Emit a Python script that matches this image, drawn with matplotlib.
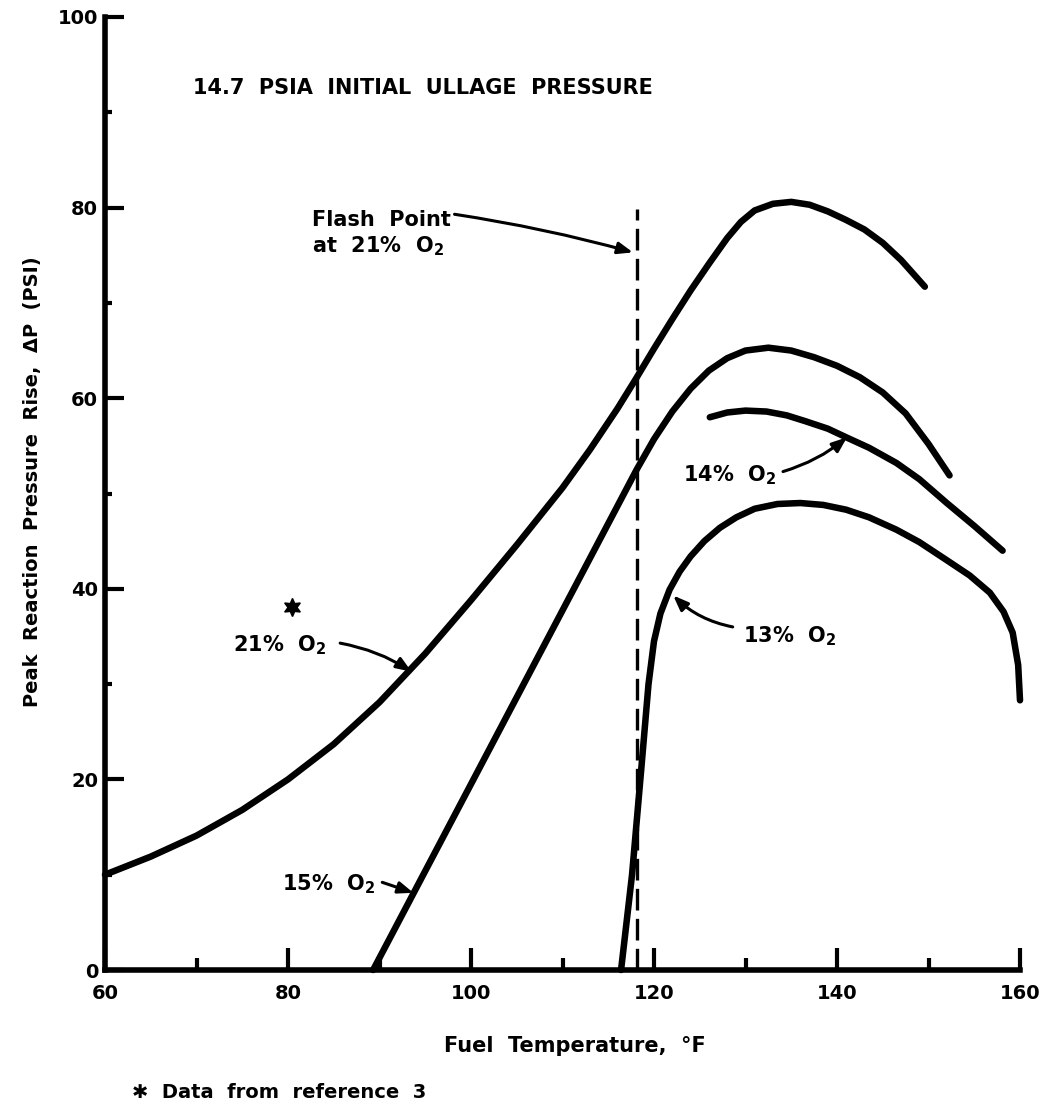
import matplotlib
matplotlib.use("Agg")
import matplotlib.pyplot as plt

plt.rcParams['font.family'] = ['DejaVu Sans']
plt.rcParams['mathtext.fontset'] = 'dejavusans'

# ---- data ----
o2_21_x = [60, 65, 70, 75, 80, 85, 90, 95, 100, 105, 110, 113, 116, 118, 120, 122, 124, 126, 128, 129.5,
           131, 133, 135, 137, 139, 141, 143, 145, 147, 149.6]
o2_21_y = [10, 11.9, 14.1, 16.8, 20, 23.7, 28.1, 33.2, 38.8, 44.6, 50.6, 54.6, 58.9, 62.0, 65.2, 68.3, 71.3,
           74.1, 76.8, 78.5, 79.7, 80.4, 80.6, 80.3, 79.6, 78.7, 77.7, 76.3, 74.5, 71.7]

o2_15_x = [89.3, 118.1, 120, 122, 124, 126, 128, 130, 132.5, 135, 137.5, 140, 142.5, 145, 147.5, 150, 152.3]
o2_15_y = [0, 52.5, 55.7, 58.6, 61.0, 62.9, 64.2, 65.0, 65.3, 65.0, 64.3, 63.4, 62.2, 60.6, 58.4, 55.2, 51.9]

o2_14_x = [126.1, 128, 130, 132.3, 134.5, 136.5, 139, 141, 143.5, 146.5, 149, 152, 155, 158.1]
o2_14_y = [58.0, 58.5, 58.7, 58.6, 58.2, 57.6, 56.8, 55.9, 54.8, 53.2, 51.5, 49.0, 46.6, 44.0]

o2_13_x = [116.4, 117.6, 118.6, 119.4, 120.0, 120.7, 121.7, 122.8, 124, 125.5, 127.2, 129, 131, 133.5, 136,
           138.5, 141, 143.5, 146.5, 149, 152, 154.5, 156.7, 158.2, 159.2, 159.8, 160]
o2_13_y = [0, 10, 21, 30, 34.5, 37.4, 39.9, 41.8, 43.4, 45.0, 46.4, 47.5, 48.4, 48.9, 49.0,
           48.8, 48.3, 47.5, 46.2, 44.9, 43.0, 41.4, 39.6, 37.6, 35.4, 32.0, 28.3]

flash_x = 118.1
flash_y = [0, 79.9]

ref3_x = [80.4]
ref3_y = [38.1]

xticks_major = [60, 80, 100, 120, 140, 160]
xticks_minor = [70, 90, 110, 130, 150]
yticks_major = [0, 20, 40, 60, 80, 100]
yticks_minor = [10, 30, 50, 70, 90]

fig = plt.figure(figsize=(10.46, 11.08), dpi=100)
ax = fig.add_axes([105/1046, 1-970/1108, (1020-105)/1046, (970-17)/1108])
ax.set_xlim(60, 160)
ax.set_ylim(0, 100)

for s in ['top', 'right']:
    ax.spines[s].set_visible(False)
for s in ['left', 'bottom']:
    ax.spines[s].set_linewidth(4)
    ax.spines[s].set_capstyle('projecting')

ax.set_xticks(xticks_major)
ax.set_xticks(xticks_minor, minor=True)
ax.set_yticks(yticks_major)
ax.set_yticks(yticks_minor, minor=True)
ax.tick_params(axis='x', which='major', direction='in', length=16, width=3, pad=10, labelsize=14)
ax.tick_params(axis='x', which='minor', direction='in', length=9, width=3)
ax.tick_params(axis='y', which='major', direction='in', length=14, width=3, pad=5, labelsize=14)
ax.tick_params(axis='y', which='minor', direction='in', length=5, width=3)
for lab in ax.get_xticklabels() + ax.get_yticklabels():
    lab.set_fontweight('bold')

lw = 4.7
kw = dict(color='black', lw=lw, solid_capstyle='round', solid_joinstyle='round', clip_on=False)
ax.plot(o2_21_x, o2_21_y, **kw)
ax.plot(o2_15_x, o2_15_y, **kw)
ax.plot(o2_14_x, o2_14_y, **kw)
ax.plot(o2_13_x, o2_13_y, **kw)

ax.plot([flash_x, flash_x], flash_y, color='black', lw=2.4, dashes=(6.5, 2.5))

ax.plot(ref3_x, ref3_y, linestyle='none', marker=(6, 1, 0), markersize=13, color='black')

tfont = dict(fontsize=15, fontweight='bold', color='black')
ax.text(69.6, 92.5, "14.7  PSIA  INITIAL  ULLAGE  PRESSURE", ha='left', va='center', **tfont)
ax.text(82.6, 78.7, "Flash  Point", ha='left', va='center', **tfont)
ax.text(82.6, 75.9, r"at  21%  O$_\mathbf{2}$", ha='left', va='center', **tfont)
ax.text(74.0, 34.1, r"21%  O$_\mathbf{2}$", ha='left', va='center', **tfont)
ax.text(79.3, 9.0, r"15%  O$_\mathbf{2}$", ha='left', va='center', **tfont)
ax.text(123.2, 51.9, r"14%  O$_\mathbf{2}$", ha='left', va='center', **tfont)
ax.text(129.7, 35.0, r"13%  O$_\mathbf{2}$", ha='left', va='center', **tfont)

def arrow(tail, head, rad):
    ax.annotate('', xy=head, xytext=tail,
                arrowprops=dict(arrowstyle='-|>,head_length=0.9,head_width=0.35',
                                lw=2.2, color='black', shrinkA=0, shrinkB=0,
                                connectionstyle='arc3,rad=%g' % rad))

arrow((98.2, 79.3), (117.7, 75.3), -0.03)
arrow((85.7, 34.3), (93.5, 31.3), -0.1)
arrow((90.3, 9.2), (93.7, 8.1), 0.0)
arrow((134.1, 52.3), (141.1, 55.9), 0.1)
arrow((128.6, 36.0), (122.1, 39.3), -0.15)

fig.text(575/1046, 1-1046/1108, "Fuel  Temperature,  °F", ha='center', va='center',
         fontsize=15, fontweight='bold')
fig.text(33/1046, 1-482/1108, "Peak  Reaction  Pressure  Rise,  ΔP  (PSI)", ha='center', va='center',
         rotation=90, fontsize=14, fontweight='bold')
fig.text(132/1046, 1-1093/1108, "✱  Data  from  reference  3", ha='left', va='center',
         fontsize=14, fontweight='bold')

fig.savefig("out.png", dpi=100)
